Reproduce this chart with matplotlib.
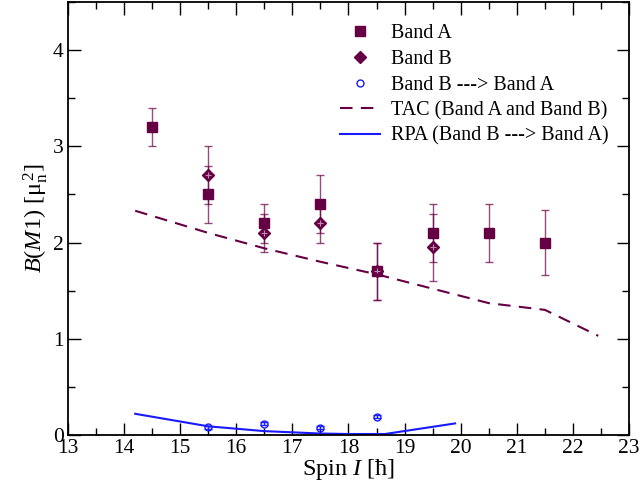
import matplotlib
matplotlib.use("Agg")
import matplotlib.pyplot as plt
import numpy as np
from matplotlib.ticker import MultipleLocator

plt.rcParams['font.family'] = ['Liberation Serif', 'DejaVu Serif']
plt.rcParams['mathtext.fontset'] = 'custom'
plt.rcParams['mathtext.rm'] = 'Liberation Serif'
plt.rcParams['mathtext.it'] = 'Liberation Serif:italic'

# experimental data
spinA = [14.5, 15.5, 16.5, 17.5, 18.5, 19.5, 20.5, 21.5]
bm1A = [3.2, 2.5, 2.2, 2.4, 1.7, 2.1, 2.1, 2.0]
errA = [0.2, 0.3, 0.2, 0.3, 0.3, 0.3, 0.3, 0.34]

spinB = [15.5, 16.5, 17.5, 18.5, 19.5]
bm1B = [2.7, 2.1, 2.2, 1.7, 1.95]
errB = [0.3, 0.2, 0.2, 0.3, 0.35]

spinBA = [15.5, 16.5, 17.5, 18.5]
bm1BA = [0.08, 0.115, 0.075, 0.19]
errBA = [0.015, 0.015, 0.015, 0.015]

# theory curves
spinTAC = [14.2, 15.5, 16.5, 17.5, 18.5, 19.5, 20.5, 21.5, 22.45]
bm1TAC = [2.33, 2.1, 1.94, 1.8, 1.67, 1.52, 1.37, 1.30, 1.03]

spinRPA = [14.2, 15.5, 16.5, 17.5, 18.0, 18.65, 19.9]
bm1RPA = [0.22, 0.09, 0.04, 0.015, 0.01, 0.01, 0.12]

maroon = '#660044'
blue = '#1a1aff'

fig = plt.figure(figsize=(6.4, 4.86), dpi=100)
ax = fig.add_axes([0.106, 0.105, 0.877, 0.891])

ax.errorbar(spinA, bm1A, yerr=errA, fmt='none', ecolor=maroon, elinewidth=1.0,
            capsize=3, capthick=1.0, alpha=0.7)
ax.errorbar(spinB, bm1B, yerr=errB, fmt='none', ecolor=maroon, elinewidth=1.0,
            capsize=3, capthick=1.0, alpha=0.7)
ax.errorbar(spinBA, bm1BA, yerr=errBA, fmt='none', ecolor=blue, elinewidth=1.0,
            capsize=3, capthick=1.0)

ax.plot(spinA, bm1A, 's', color=maroon, markersize=7, label='Band A')
ax.plot(spinB, bm1B, 'D', color=maroon, markersize=6, markerfacecolor=maroon,
        markeredgecolor=maroon, label='Band B')
ax.plot(spinB, bm1B, '+', color='#c08aa8', markersize=4, markeredgewidth=0.8)
ax.plot(spinBA, bm1BA, 'o', color=blue, markersize=5, markerfacecolor='none',
        markeredgewidth=1.0, label='Band B ---> Band A')
ax.plot(spinTAC, bm1TAC, '--', color=maroon, lw=1.5, dashes=(6, 4),
        label='TAC (Band A and Band B)')
ax.plot(spinRPA, bm1RPA, '-', color=blue, lw=1.5, label='RPA (Band B ---> Band A)')

ax.set_xlim(13, 23)
ax.set_ylim(0, 4.5)
ax.xaxis.set_major_locator(MultipleLocator(1))
ax.xaxis.set_minor_locator(MultipleLocator(0.5))
ax.yaxis.set_major_locator(MultipleLocator(1))
ax.yaxis.set_minor_locator(MultipleLocator(0.5))
ax.tick_params(which='both', direction='in', top=True, right=True, labelsize=15.5)
ax.tick_params(which='major', length=9, width=1.0, pad=3)
ax.tick_params(which='minor', length=5, width=1.0)
ax.set_yticks([0, 1, 2, 3, 4])
for s in ax.spines.values():
    s.set_linewidth(1.3)

ax.set_xlabel('Spin $\\mathit{I}$ [ħ]', fontsize=17.5, labelpad=-1)
ax.set_ylabel('$\\mathit{B(M1)}$ [μ$_\\mathrm{n}^{\\,2}$]', fontsize=17.5, labelpad=2)

ax.legend(loc='upper right', bbox_to_anchor=(0.995, 0.99), frameon=False,
          fontsize=14.5, handlelength=2.0, handletextpad=0.5, labelspacing=0.32,
          numpoints=1)

fig.savefig('out.png', dpi=100)
